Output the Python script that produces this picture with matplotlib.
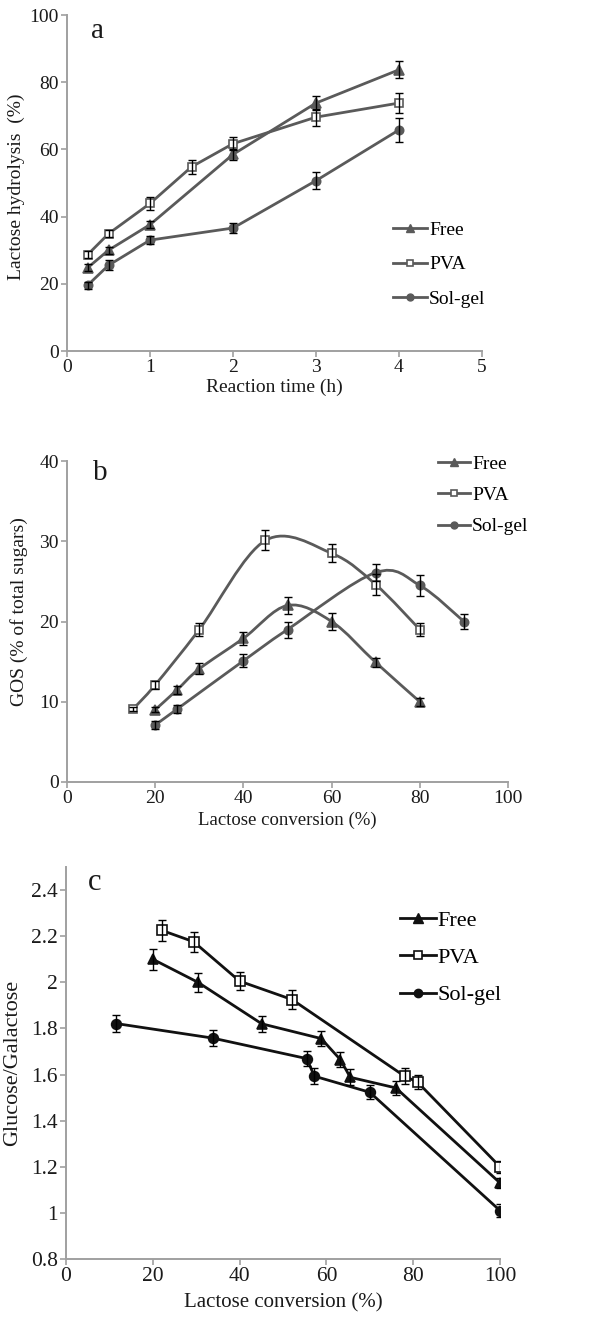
import matplotlib
matplotlib.use("Agg")
import matplotlib.pyplot as plt
from matplotlib.path import Path
from matplotlib.patches import PathPatch
from matplotlib.lines import Line2D
import numpy as np

plt.rcParams['font.family'] = ['Liberation Serif', 'DejaVu Serif']

# ---------------- Panel a data ----------------
a_free_x = [0.25, 0.5, 1, 2, 3, 4]
a_free_y = [24.8, 30, 37.6, 58.5, 73.8, 83.7]
a_free_e = [1.0, 1.0, 1.0, 1.7, 2.0, 2.5]
a_pva_x = [0.25, 0.5, 1, 1.5, 2, 3, 4]
a_pva_y = [28.7, 34.9, 43.9, 54.8, 61.7, 69.6, 73.8]
a_pva_e = [1.0, 1.0, 1.8, 2.0, 2.0, 2.5, 3.0]
a_sol_x = [0.25, 0.5, 1, 2, 3, 4]
a_sol_y = [19.6, 25.5, 33.0, 36.6, 50.7, 65.8]
a_sol_e = [1.0, 1.5, 1.2, 1.5, 2.5, 3.5]

# ---------------- Panel b data ----------------
b_free_x = [20, 25, 30, 40, 50, 60, 70, 80]
b_free_y = [9.0, 11.5, 14.1, 17.9, 22.0, 20.0, 14.9, 10.0]
b_free_e = [0.3, 0.5, 0.7, 0.8, 1.1, 1.0, 0.6, 0.5]
b_pva_x = [15, 20, 30, 45, 60, 70, 80]
b_pva_y = [9.1, 12.1, 19.0, 30.1, 28.5, 24.6, 19.0]
b_pva_e = [0.3, 0.5, 0.8, 1.25, 1.1, 1.3, 0.8]
b_sol_x = [20, 25, 40, 50, 70, 80, 90]
b_sol_y = [7.1, 9.1, 15.1, 19.0, 26.1, 24.5, 20.0]
b_sol_e = [0.5, 0.5, 0.8, 1.0, 1.1, 1.3, 0.9]

# ---------------- Panel c data ----------------
c_free_x = [20, 30.4, 45.1, 58.8, 63.2, 65.5, 76, 100]
c_free_y = [2.10, 2.00, 1.82, 1.756, 1.665, 1.588, 1.542, 1.13]
c_free_e = [0.046, 0.042, 0.035, 0.034, 0.034, 0.035, 0.03, 0.022]
c_pva_x = [22.1, 29.4, 40, 52.1, 78, 81, 100]
c_pva_y = [2.225, 2.176, 2.005, 1.925, 1.593, 1.567, 1.20]
c_pva_e = [0.047, 0.043, 0.04, 0.04, 0.035, 0.03, 0.025]
c_sol_x = [11.6, 33.8, 55.5, 57.2, 70, 100]
c_sol_y = [1.821, 1.758, 1.669, 1.593, 1.523, 1.01]
c_sol_e = [0.035, 0.034, 0.034, 0.035, 0.03, 0.03]

labels = ["Free", "PVA", "Sol-gel"]

W, H = 594, 1321
fig = plt.figure(figsize=(W / 100, H / 100), dpi=100)

def add_ax(l, r, t, b):
    return fig.add_axes([l / W, 1 - b / H, (r - l) / W, (b - t) / H])

SPINE = '#a0a0a0'
GRAY = '#5a5a5a'

def style(ax, fs):
    for s in ['top', 'right']:
        ax.spines[s].set_visible(False)
    for s in ['left', 'bottom']:
        ax.spines[s].set_color(SPINE)
        ax.spines[s].set_linewidth(1.4)
    ax.tick_params(direction='out', length=4, width=1.2, color=SPINE,
                   labelsize=fs, labelcolor='#1a1a1a', pad=2)

def smooth_path(x, y):
    x = np.asarray(x, float)
    y = np.asarray(y, float)
    n = len(x)
    verts = [(x[0], y[0])]
    codes = [Path.MOVETO]
    for i in range(n - 1):
        xm, ym = (x[i - 1], y[i - 1]) if i > 0 else (x[i], y[i])
        xp, yp = (x[i + 2], y[i + 2]) if i + 2 < n else (x[i + 1], y[i + 1])
        c1 = (x[i] + (x[i + 1] - xm) / 6, y[i] + (y[i + 1] - ym) / 6)
        c2 = (x[i + 1] - (xp - x[i]) / 6, y[i + 1] - (yp - y[i]) / 6)
        verts += [c1, c2, (x[i + 1], y[i + 1])]
        codes += [Path.CURVE4] * 3
    return Path(verts, codes)

def series(ax, x, y, e, marker, color, mfc, ms, lw, smooth=False):
    if smooth:
        ax.add_patch(PathPatch(smooth_path(x, y), fill=False, edgecolor=color,
                               lw=lw, zorder=2))
        ax.plot(x, y, ls='none', marker=marker, color=color, mfc=mfc,
                mec=color, ms=ms, mew=1.2, zorder=3)
    else:
        ax.plot(x, y, ls='-', marker=marker, color=color, mfc=mfc, mec=color,
                ms=ms, mew=1.2, lw=lw, zorder=2)
    ax.errorbar(x, y, yerr=e, fmt='none', ecolor='black', elinewidth=1.0,
                capsize=3, capthick=1.0, zorder=4)

def legend_handles(color, lw, ms):
    return [Line2D([], [], color=color, lw=lw, marker='^', ms=ms, mfc=color, mec=color),
            Line2D([], [], color=color, lw=lw, marker='s', ms=ms - 1, mfc='white', mec=color, mew=1.2),
            Line2D([], [], color=color, lw=lw, marker='o', ms=ms - 1, mfc=color, mec=color)]

# ---------------- Panel a ----------------
ax = add_ax(67, 482, 15, 351)
style(ax, 14)
series(ax, a_free_x, a_free_y, a_free_e, '^', GRAY, GRAY, 6.5, 2.0)
series(ax, a_pva_x, a_pva_y, a_pva_e, 's', GRAY, 'white', 6, 2.0)
series(ax, a_sol_x, a_sol_y, a_sol_e, 'o', GRAY, GRAY, 6, 2.0)
ax.set_xlim(0, 5)
ax.set_ylim(0, 100)
ax.set_xticks([0, 1, 2, 3, 4, 5])
ax.set_yticks([0, 20, 40, 60, 80, 100])
ax.set_xlabel("Reaction time (h)", fontsize=14, color='#1a1a1a', labelpad=2)
ax.set_ylabel("Lactose hydrolysis  (%)", fontsize=14, color='#1a1a1a')
ax.yaxis.set_label_coords(-0.102, 0.49)
fig.text(97 / W, 1 - 31 / H, "a", fontsize=21, ha='center', va='center', color='#1a1a1a')
ax.legend(legend_handles(GRAY, 2.0, 6), labels, loc='upper left',
          bbox_to_anchor=(393 / W, 1 - 221 / H), bbox_transform=fig.transFigure,
          frameon=False, fontsize=14, handlelength=1.75, handletextpad=0.1,
          labelspacing=0.88, borderaxespad=0, borderpad=0)

# ---------------- Panel b ----------------
ax = add_ax(67, 508, 461, 782)
style(ax, 14)
series(ax, b_free_x, b_free_y, b_free_e, '^', GRAY, GRAY, 6.5, 2.0, smooth=True)
series(ax, b_pva_x, b_pva_y, b_pva_e, 's', GRAY, 'white', 6, 2.0, smooth=True)
series(ax, b_sol_x, b_sol_y, b_sol_e, 'o', GRAY, GRAY, 6, 2.0, smooth=True)
ax.set_xlim(0, 100)
ax.set_ylim(0, 40)
ax.set_xticks([0, 20, 40, 60, 80, 100])
ax.set_yticks([0, 10, 20, 30, 40])
ax.set_xlabel("Lactose conversion (%)", fontsize=13.5, color='#1a1a1a', labelpad=3)
ax.set_ylabel("GOS (% of total sugars)", fontsize=14, color='#1a1a1a')
ax.yaxis.set_label_coords(-0.088, 0.53)
fig.text(100 / W, 1 - 473 / H, "b", fontsize=21, ha='center', va='center', color='#1a1a1a')
ax.legend(legend_handles(GRAY, 2.0, 6), labels, loc='upper left',
          bbox_to_anchor=(438 / W, 1 - 455 / H), bbox_transform=fig.transFigure,
          frameon=False, fontsize=14, handlelength=1.65, handletextpad=0.1,
          labelspacing=0.71, borderaxespad=0, borderpad=0)

# ---------------- Panel c ----------------
BLK = '#111111'
ax = add_ax(66, 500, 867, 1259)
style(ax, 15.5)
series(ax, c_free_x, c_free_y, c_free_e, '^', BLK, BLK, 7, 2.0)
series(ax, c_pva_x, c_pva_y, c_pva_e, 's', BLK, 'white', 7, 2.0)
series(ax, c_sol_x, c_sol_y, c_sol_e, 'o', BLK, BLK, 7, 2.0)
ax.set_xlim(0, 100)
ax.set_ylim(0.8, 2.5)
ax.set_xticks([0, 20, 40, 60, 80, 100])
ax.set_yticks([0.8, 1.0, 1.2, 1.4, 1.6, 1.8, 2.0, 2.2, 2.4])
ax.set_yticklabels(["0.8", "1", "1.2", "1.4", "1.6", "1.8", "2", "2.2", "2.4"])
ax.set_xlabel("Lactose conversion (%)", fontsize=15, color='#1a1a1a', labelpad=5)
ax.set_ylabel("Glucose/Galactose", fontsize=16, color='#1a1a1a', labelpad=6)
fig.text(95 / W, 1 - 883 / H, "c", fontsize=22, ha='center', va='center', color='#1a1a1a')
ax.legend(legend_handles(BLK, 2.0, 7), labels, loc='upper left',
          bbox_to_anchor=(400 / W, 1 - 910 / H), bbox_transform=fig.transFigure,
          frameon=False, fontsize=16, handlelength=1.6, handletextpad=0.1,
          labelspacing=0.76, borderaxespad=0, borderpad=0)

fig.savefig("out.png", dpi=100)
